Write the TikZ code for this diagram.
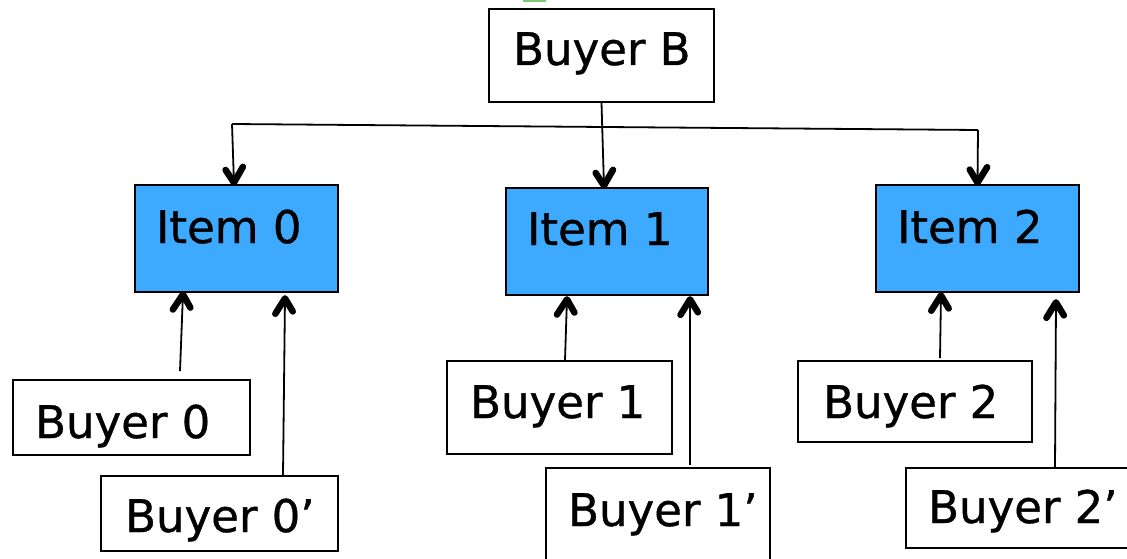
\documentclass[tikz,border=0pt]{standalone}
\usepackage{fontspec}
\setmainfont[FakeBold=0.8]{DejaVu Sans}
\usetikzlibrary{decorations.markings}
\definecolor{itemblue}{HTML}{3DAAFF}
\definecolor{tabgreen}{HTML}{7CC87C}
\begin{document}
\begin{tikzpicture}[x=1pt,y=-1pt,
  box/.style={draw=black, line width=1.8pt, fill=white, inner sep=0pt},
  itembox/.style={box, fill=itemblue},
  lbl/.style={anchor=base west, inner sep=0pt, font=\fontsize{45}{50}\selectfont},
  % open, heavy V-shaped head drawn at the end of the line
  link/.style={line width=1.8pt, shorten >=3pt,
    postaction={decorate, decoration={markings, mark=at position 1 with {
      \draw[line width=6.5pt, line cap=round, line join=round]
        (-17pt,9.5pt) -- (-1.5pt,0pt) -- (-17pt,-9.5pt);}}}},
  bus/.style={line width=1.8pt}
]
\useasboundingbox (0,0) rectangle (1127,559);
\clip (0,0) rectangle (1127,559);

% small tab peeking in at the top edge
\fill[tabgreen] (523,0) rectangle (546,2.5);

% boxes
\node[box, minimum width=225pt, minimum height=93pt]  (bb)  at (601.5,55.5) {};
\node[itembox, minimum width=203pt, minimum height=107pt] (i0) at (236.5,238.5) {};
\node[itembox, minimum width=202pt, minimum height=107pt] (i1) at (607,241.5) {};
\node[itembox, minimum width=203pt, minimum height=107pt] (i2) at (977.5,238.5) {};
\node[box, minimum width=237pt, minimum height=75pt]  (b0)  at (131.5,417.5) {};
\node[box, minimum width=237pt, minimum height=75pt]  (b0p) at (219.5,513.5) {};
\node[box, minimum width=225pt, minimum height=93pt]  (b1)  at (559.5,407.5) {};
\node[box, minimum width=224pt, minimum height=102pt] (b1p) at (658,519) {};
\node[box, minimum width=234pt, minimum height=81pt]  (b2)  at (915,401.5) {};
\node[box, minimum width=234pt, minimum height=80pt]  (b2p) at (1023,508) {};

% labels
\node[lbl] (tbb)  at (513,65)  {Buyer B};
\node[lbl] (ti0)  at (156,243) {Item 0};
\node[lbl] (ti1)  at (527,245) {Item 1};
\node[lbl] (ti2)  at (897,243) {Item 2};
\node[lbl] (tb0)  at (35,438)  {Buyer 0};
\node[lbl] (tb0p) at (125,532) {Buyer 0’};
\node[lbl] (tb1)  at (470,418) {Buyer 1};
\node[lbl] (tb1p) at (568,526) {Buyer 1’};
\node[lbl] (tb2)  at (823,418) {Buyer 2};
\node[lbl] (tb2p) at (928,523) {Buyer 2’};

% distribution bus from Buyer B to the items
\coordinate (busL) at (232,124);
\coordinate (busR) at (978,130);
\draw[bus] (busL) -- (busR);
\draw[link] (busL) -- ([xshift=-2.5pt]i0.north);
\draw[link] (busR) -- (i2.north);
\draw[link] (bb.south) -- ([xshift=-3pt]i1.north);

% bids from the buyers into the items
\draw[link] ([xshift=48.5pt,yshift=8pt]b0.north) -- ([xshift=-53.5pt]i0.south);
\draw[link] ([xshift=63.5pt]b0p.north) -- ([xshift=48.5pt,yshift=-4pt]i0.south);
\draw[link] ([xshift=5.5pt]b1.north) -- ([xshift=-40pt,yshift=-2pt]i1.south);
\draw[link] ([xshift=32pt,yshift=2pt]b1p.north) -- ([xshift=83pt,yshift=-2pt]i1.south);
\draw[link] ([xshift=25pt,yshift=2pt]b2.north) -- ([xshift=-36.5pt,yshift=-1pt]i2.south);
\draw[link] ([xshift=32pt]b2p.north) -- ([xshift=78.5pt,yshift=-8pt]i2.south);
\end{tikzpicture}
\end{document}
